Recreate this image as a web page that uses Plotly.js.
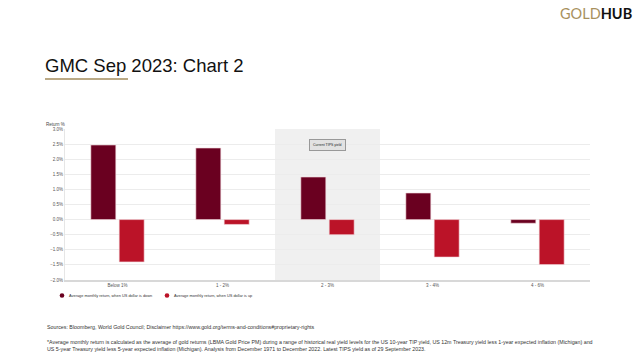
<!DOCTYPE html>
<html>
<head>
<meta charset="utf-8">
<script src="https://cdn.plot.ly/plotly-3.0.1.min.js"></script>
<style>
html,body{margin:0;padding:0;background:#fff;}
#chart{width:640px;height:360px;}
</style>
</head>
<body>
<div id="chart"></div>
<script>
// ---- Data ----
var categories = ['Below 1%', '1 - 2%', '2 - 3%', '3 - 4%', '4 - 6%'];
var dollarDown = [2.47, 2.37, 1.41, 0.88, -0.12];
var dollarUp = [-1.40, -0.16, -0.50, -1.24, -1.49];
var seriesNames = ['Average monthly return, when US dollar is down', 'Average monthly return, when US dollar is up'];
var seriesColors = ['#6a0020', '#bb1328'];
var titleText = 'GMC Sep 2023: Chart 2';
var yTitleText = 'Return %';
var highlightCategory = '2 - 3%';
var highlightLabel = 'Current TIPS yield';
var sourcesText = 'Sources: Bloomberg, World Gold Council; Disclaimer https://www.gold.org/terms-and-conditions#proprietary-rights';
var footnoteText = '*Average monthly return is calculated as the average of gold returns (LBMA Gold Price PM) during a range of historical real yield levels for the US 10-year TIP yield, US 12m Treasury yield less 1-year expected inflation (Michigan) and<br>US 5-year Treasury yield less 5-year expected inflation (Michigan). Analysis from December 1971 to December 2022. Latest TIPS yield as of 29 September 2023.';

// ---- Layout helpers (pixel -> paper) ----
var W = 640, H = 360, mL = 65, mR = 50, mT = 129, mB = 80;
var pw = W - mL - mR, ph = H - mT - mB;
function px(x) { return (x - mL) / pw; }
function py(y) { return (H - mB - y) / ph; }

var FONT = 'Liberation Sans, Arial, sans-serif';
var hi = categories.indexOf(highlightCategory);

var traces = [
  {type: 'bar', x: categories, y: dollarDown, name: seriesNames[0], showlegend: false,
   marker: {color: seriesColors[0], line: {color: '#f3d6dc', width: 0.6}}},
  {type: 'bar', x: categories, y: dollarUp, name: seriesNames[1], showlegend: false,
   marker: {color: seriesColors[1], line: {color: '#f3d6dc', width: 0.6}}}
];

// legend drawn as small circles + labels below the axis
var legendX = [62, 167], legendY = 295.5;
var legendShapes = seriesNames.map(function (n, i) {
  return {type: 'circle', xref: 'paper', yref: 'paper', xsizemode: 'pixel', ysizemode: 'pixel',
          xanchor: px(legendX[i]), yanchor: py(legendY), x0: -2.3, x1: 2.3, y0: -2.3, y1: 2.3,
          fillcolor: seriesColors[i], line: {width: 0}};
});
var legendTexts = seriesNames.map(function (n, i) {
  return {xref: 'paper', yref: 'paper', x: px(legendX[i] + 5), y: py(legendY), xanchor: 'left', yanchor: 'middle',
          text: n, showarrow: false, font: {size: 3.9, color: '#333'}};
});

var layout = {
  width: W, height: H,
  margin: {l: mL, r: mR, t: mT, b: mB, pad: 0},
  paper_bgcolor: '#ffffff', plot_bgcolor: '#ffffff',
  font: {family: FONT, color: '#444'},
  title: {text: titleText, font: {family: FONT, size: 18.5, color: '#111'},
          x: 45 / W, xanchor: 'left', xref: 'container', y: 1 - 65.5 / H, yanchor: 'middle', yref: 'container'},
  barmode: 'group', bargap: 0.46, bargroupgap: 0.12,
  showlegend: false,
  xaxis: {type: 'category', showgrid: false, showline: true, linecolor: '#d8d8d8', linewidth: 1.5,
          ticks: '', tickfont: {size: 4.5, color: '#555'}, zeroline: false, fixedrange: true},
  yaxis: {range: [-2, 3], dtick: 0.5, tickformat: '.1f', ticksuffix: '%', showgrid: true,
          gridcolor: '#ececec', gridwidth: 1, zeroline: true, zerolinecolor: '#ececec', zerolinewidth: 1,
          showline: true, linecolor: '#e6e6e6', linewidth: 1, ticks: '',
          tickfont: {size: 4.5, color: '#555'}, fixedrange: true},
  shapes: [
    {type: 'rect', xref: 'x', yref: 'paper', x0: hi - 0.5, x1: hi + 0.5, y0: 0, y1: 1,
     fillcolor: '#f0f0f0', line: {width: 0}, layer: 'below'},
    {type: 'line', xref: 'paper', yref: 'paper', x0: px(45), x1: px(128), y0: py(79), y1: py(79),
     line: {color: '#a38c5c', width: 1.6}}
  ].concat(legendShapes),
  annotations: [
    {xref: 'paper', yref: 'paper', x: px(67), y: py(124), xanchor: 'right', yanchor: 'middle',
     text: yTitleText, showarrow: false, font: {size: 4.5, color: '#444'}},
    {xref: 'x', yref: 'paper', x: hi, y: py(145), xanchor: 'center', yanchor: 'middle',
     text: highlightLabel, showarrow: false, font: {size: 3.5, color: '#222'},
     bgcolor: '#e2e2e2', bordercolor: '#999', borderwidth: 1, borderpad: 3},
    {xref: 'paper', yref: 'paper', x: px(634), y: py(13), xanchor: 'right', yanchor: 'middle',
     text: '<span style="color:#a8915e">GOLD</span><b>HUB</b>', showarrow: false,
     font: {family: 'Lato, Inter, sans-serif', size: 14.5, color: '#111'}},
    {xref: 'paper', yref: 'paper', x: px(45), y: py(327), xanchor: 'left', yanchor: 'middle',
     text: sourcesText, showarrow: false, font: {size: 5.3, color: '#333'}},
    {xref: 'paper', yref: 'paper', x: px(45), y: py(345.5), xanchor: 'left', yanchor: 'middle', align: 'left',
     text: footnoteText, showarrow: false, font: {size: 5.3, color: '#333'}}
  ].concat(legendTexts)
};

Plotly.newPlot('chart', traces, layout, {displayModeBar: false, staticPlot: true});
</script>
</body>
</html>
